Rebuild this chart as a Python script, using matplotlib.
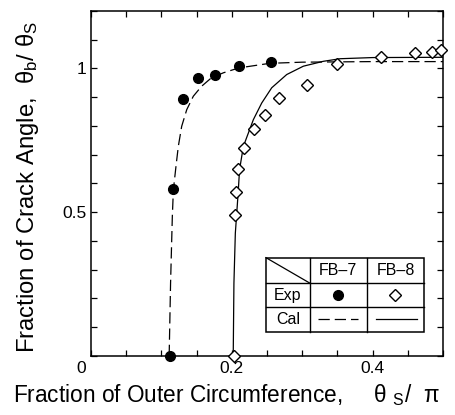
import matplotlib
matplotlib.use("Agg")
import matplotlib.pyplot as plt
from matplotlib.patches import Rectangle
from matplotlib.lines import Line2D
from matplotlib.transforms import ScaledTranslation

plt.rcParams["font.family"] = ["Liberation Sans", "DejaVu Sans"]
plt.rcParams["mathtext.fontset"] = "custom"
plt.rcParams["mathtext.rm"] = "Liberation Sans"
plt.rcParams["mathtext.it"] = "Liberation Sans:italic"

# Experimental points
fb7_x = [0.112, 0.117, 0.130, 0.152, 0.176, 0.210, 0.256]
fb7_y = [0.0, 0.582, 0.894, 0.967, 0.976, 1.008, 1.024]

fb8_x = [0.203, 0.204, 0.206, 0.209, 0.217, 0.231, 0.247, 0.267, 0.307,
         0.350, 0.412, 0.460, 0.484, 0.497]
fb8_y = [0.0, 0.491, 0.569, 0.652, 0.724, 0.790, 0.837, 0.897, 0.943,
         1.015, 1.039, 1.055, 1.057, 1.064]

# Calculated curves
cal7_x = [0.111, 0.113, 0.1155, 0.117, 0.1207, 0.124, 0.1288, 0.136, 0.1453,
          0.157, 0.171, 0.188, 0.210, 0.254, 0.30, 0.40, 0.50]
cal7_y = [0.0, 0.253, 0.485, 0.578, 0.660, 0.729, 0.799, 0.857, 0.9035,
          0.938, 0.9675, 0.985, 1.002, 1.018, 1.022, 1.024, 1.024]

cal8_x = [0.202, 0.203, 0.205, 0.207, 0.209, 0.211, 0.2164, 0.2306, 0.2425,
          0.2567, 0.278, 0.3016, 0.330, 0.354, 0.40, 0.50]
cal8_y = [0.0, 0.253, 0.427, 0.497, 0.567, 0.648, 0.729, 0.822, 0.880,
          0.933, 0.979, 1.008, 1.025, 1.034, 1.038, 1.039]

x_ticks = [0.0, 0.05, 0.1, 0.15, 0.2, 0.25, 0.3, 0.35, 0.4, 0.45, 0.5]
x_ticklabels = ["", "", "", "", "0.2", "", "", "", "0.4", "", ""]
y_ticks = [0.0, 0.1, 0.2, 0.3, 0.4, 0.5, 0.6, 0.7, 0.8, 0.9, 1.0, 1.1, 1.2]
y_ticklabels = ["0", "", "", "", "", "0.5", "", "", "", "", "1", "", ""]

series_names = ["FB–7", "FB–8"]
row_names = ["Exp", "Cal"]

fig = plt.figure(figsize=(4.56, 4.15), dpi=100)
ax = fig.add_axes([0.1996, 0.1422, 0.7719, 0.8313])

DASH = (9, 4)
LW = 0.9

ax.plot(cal7_x, cal7_y, color="black", lw=LW, dashes=DASH, zorder=2)
ax.plot(cal8_x, cal8_y, color="black", lw=LW, zorder=2)
ax.plot(fb7_x, fb7_y, "o", color="black", ms=7, zorder=3, clip_on=False)
ax.plot(fb8_x, fb8_y, "D", mfc="white", mec="black", mew=1.0, ms=6.2,
        zorder=3, clip_on=False)

ax.set_xlim(0, 0.5)
ax.set_ylim(0, 1.2)
ax.set_xticks(x_ticks)
ax.set_xticklabels(x_ticklabels)
ax.set_yticks(y_ticks)
ax.set_yticklabels(y_ticklabels)
ax.tick_params(direction="in", top=True, right=True, length=4, width=0.9,
               labelsize=12.5, pad=3.5)
for s in ax.spines.values():
    s.set_linewidth(1.1)

# shared origin label sits below the corner
lbl0 = ax.get_yticklabels()[0]
lbl0.set_transform(lbl0.get_transform() + ScaledTranslation(0, -0.11, fig.dpi_scale_trans))

# Axis titles
fig.text(13 / 456, (415 - 402) / 415,
         r"Fraction of Outer Circumference,     θ $_{\mathrm{S}}$/  π",
         fontsize=16.3, ha="left", va="baseline")
fig.text(28 / 456, (415 - 353) / 415,
         r"Fraction of Crack Angle,  θ$_{\mathrm{b}}$/ θ$_{\mathrm{S}}$",
         fontsize=17.2, rotation=90, ha="center", va="bottom")

# Key table
tx = [0.497, 0.622, 0.783, 0.947]
ty = [0.285, 0.211, 0.142, 0.070]
T = ax.transAxes
ax.add_patch(Rectangle((tx[0], ty[3]), tx[3] - tx[0], ty[0] - ty[3],
                       transform=T, facecolor="white", edgecolor="black",
                       lw=1.1, zorder=4))
for xv in tx[1:3]:
    ax.add_line(Line2D([xv, xv], [ty[3], ty[0]], transform=T, color="black",
                       lw=1.0, zorder=5))
for yv in ty[1:3]:
    ax.add_line(Line2D([tx[0], tx[3]], [yv, yv], transform=T, color="black",
                       lw=1.0, zorder=5))
ax.add_line(Line2D([tx[0], tx[1]], [ty[0], ty[1]], transform=T, color="black",
                   lw=0.9, zorder=5))

cx = [(tx[i] + tx[i + 1]) / 2 for i in range(3)]
cy = [(ty[i] + ty[i + 1]) / 2 for i in range(3)]
for i, name in enumerate(series_names):
    ax.text(cx[i + 1], cy[0], name, transform=T, ha="center", va="center",
            fontsize=11.5, zorder=6)
for j, name in enumerate(row_names):
    ax.text(cx[0], cy[j + 1], name, transform=T, ha="center", va="center",
            fontsize=11.5, zorder=6)
ax.plot([cx[1]], [cy[1]], "o", color="black", ms=7, transform=T, zorder=6,
        clip_on=False)
ax.plot([cx[2]], [cy[1]], "D", mfc="white", mec="black", mew=1.0, ms=6.2,
        transform=T, zorder=6, clip_on=False)
ax.plot([0.645, 0.759], [cy[2], cy[2]], color="black", lw=LW, dashes=DASH,
        transform=T, zorder=6)
ax.plot([0.81, 0.925], [cy[2], cy[2]], color="black", lw=LW, transform=T,
        zorder=6)

fig.savefig("out.png", dpi=100)
